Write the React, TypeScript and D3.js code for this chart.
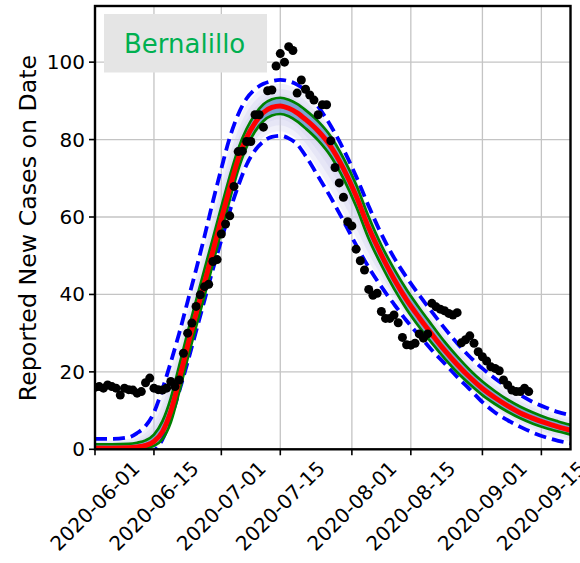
import React from "react";
import * as d3 from "d3";

// ---------- data ----------
const startDate = "2020-06-01";
// reported new cases per day, starting 2020-06-01
const observedCases = [
  16.0, 16.2, 15.8, 16.6, 16.2, 15.8, 14.0, 15.8, 15.4, 15.3,
  14.5, 14.9, 17.2, 18.4, 15.8, 15.4, 15.3, 15.8, 17.5, 16.2,
  17.9, 24.8, 30.0, 32.6, 36.9, 39.9, 42.0, 42.6, 48.5, 49.0,
  55.6, 58.2, 60.3, 67.9, 76.9, 77.0, 79.5, 79.5, 86.4, 86.4,
  83.2, 92.6, 92.8, 99.0, 102.2, 100.0, 104.0, 103.0, 92.0, 95.4,
  93.0, 91.5, 90.2, 86.4, 89.0, 89.0, 79.7, 72.8, 68.8, 65.1,
  58.8, 57.7, 51.7, 48.7, 46.3, 41.3, 39.8, 40.3, 35.6, 33.8,
  33.8, 34.7, 32.7, 28.9, 27.0, 26.9, 27.4, 29.8, 28.7, 29.8,
  37.7, 36.8, 36.2, 35.8, 35.1, 34.7, 35.3, 27.5, 28.3, 29.3,
  27.4, 25.2, 23.9, 22.8, 21.3, 20.9, 20.3, 17.9, 16.6, 15.3,
  14.9, 14.9, 15.8, 14.9,
];

// model curve sample days (days after 2020-06-01)
const modelDays = [0, 4, 8, 10, 12, 14, 16, 18, 20, 22, 24, 26, 28, 30, 32, 34, 36, 38, 40, 42, 44, 46, 48, 50, 53, 56, 59, 62, 65, 68, 71, 74, 77, 80, 83, 86, 89, 92, 95, 98, 101, 104, 107, 110, 113];
const fitCenter = [0.3, 0.3, 0.4, 0.6, 1.0, 2.0, 4.5, 9.8, 18.0, 26.8, 35.0, 43.0, 51.2, 59.5, 67.5, 75.0, 80.5, 84.3, 87.0, 88.3, 88.7, 88.1, 86.9, 85.2, 82.2, 78.2, 72.5, 65.5, 57.2, 50.2, 44.0, 38.6, 34.0, 29.7, 25.6, 21.9, 18.6, 15.7, 13.3, 11.2, 9.4, 8.0, 6.8, 5.8, 4.9];
const fitUpperGreen = [1.3, 1.3, 1.4, 1.7, 2.3, 3.8, 7.2, 13.2, 21.6, 30.2, 38.4, 46.5, 54.5, 62.6, 70.5, 77.6, 82.8, 86.5, 89.1, 90.4, 90.8, 90.3, 89.2, 87.6, 84.7, 80.8, 75.2, 68.4, 60.0, 52.7, 46.6, 41.2, 36.5, 32.1, 27.8, 24.0, 20.5, 17.5, 15.0, 12.8, 11.0, 9.5, 8.2, 7.2, 6.3];
const fitLowerGreen = [0.0, 0.0, 0.0, 0.1, 0.3, 0.9, 2.6, 7.0, 14.8, 23.5, 31.7, 39.6, 48.0, 56.4, 64.5, 72.2, 78.1, 82.1, 84.8, 86.2, 86.6, 86.0, 84.7, 82.9, 79.8, 75.7, 69.9, 62.8, 54.4, 47.6, 41.5, 36.2, 31.6, 27.4, 23.5, 19.9, 16.8, 14.0, 11.7, 9.7, 8.0, 6.6, 5.5, 4.6, 3.8];
const fitUpperDashed = [2.7, 2.7, 3.1, 4.2, 6.0, 9.5, 15.5, 22.5, 30.0, 38.2, 46.4, 55.0, 64.0, 72.5, 80.5, 86.5, 90.6, 93.0, 94.4, 95.1, 95.4, 95.1, 94.2, 92.6, 88.5, 83.5, 77.5, 70.5, 62.8, 55.6, 49.5, 44.4, 39.8, 35.5, 31.3, 27.4, 23.9, 20.9, 18.3, 16.0, 14.0, 12.2, 10.8, 9.6, 8.8];
const fitLowerDashed = [-2.4, -2.4, -2.4, -2.3, -2.0, -0.5, 2.5, 8.0, 15.0, 22.5, 30.5, 38.5, 46.5, 54.0, 61.5, 68.0, 73.5, 77.2, 79.5, 80.7, 81.0, 80.3, 78.8, 75.8, 70.5, 65.0, 59.0, 52.8, 47.0, 42.0, 37.5, 33.2, 29.4, 25.6, 22.2, 18.7, 15.5, 12.2, 9.5, 7.5, 5.8, 4.3, 3.1, 2.2, 1.5];

const xTickLabels = ["2020-06-01", "2020-06-15", "2020-07-01", "2020-07-15", "2020-08-01", "2020-08-15", "2020-09-01", "2020-09-15"];
const yTicks = [0, 20, 40, 60, 80, 100];
const countyName = "Bernalillo";
const yLabel = "Reported New Cases on Date";

// ---------- layout ----------
const W = 580;
const H = 563;
const L = 95;
const R = 570.5;
const T = 6;
const B = 449.3;
const FONT = "'DejaVu Sans', sans-serif";

export default function App() {
  const parse = d3.utcParse("%Y-%m-%d");
  const start = parse(startDate) as Date;
  const end = d3.utcHour.offset(d3.utcDay.offset(start, 112), 22);
  const x = d3.scaleUtc().domain([start, end]).range([L, R]);
  const y = d3.scaleLinear().domain([0, 114.5]).range([B, T]);

  const mx = (i: number) => x(d3.utcDay.offset(start, modelDays[i]));

  const line = (vals: number[]) =>
    d3.line<number>()
      .x((_, i) => mx(i))
      .y((v) => y(v))
      .curve(d3.curveMonotoneX)(vals) || "";

  const area = (lo: number[], hi: number[]) =>
    d3.area<number>()
      .x((_, i) => mx(i))
      .y0((_, i) => y(lo[i]))
      .y1((_, i) => y(hi[i]))
      .curve(d3.curveMonotoneX)(fitCenter) || "";

  const fan = [0.85, 0.65, 0.45, 0.3].map((t) => {
    const hi = fitCenter.map((c, i) => c + t * (fitUpperDashed[i] - c));
    const lo = fitCenter.map((c, i) => c + t * (fitLowerDashed[i] - c));
    return area(lo, hi);
  });

  const xTicks = xTickLabels.map((s) => parse(s) as Date);

  return (
    <svg
      width={W}
      height={H}
      style={{ position: "absolute", left: 0, top: 0, background: "#fff" }}
      fontFamily={FONT}
    >
      <defs>
        <clipPath id="plot">
          <rect x={L} y={T} width={R - L} height={B - T} />
        </clipPath>
      </defs>
      <rect x={0} y={0} width={W} height={H} fill="#fff" />

      {/* grid */}
      <g stroke="#c4c4c4" strokeWidth={1.3}>
        {xTicks.map((d, i) => (
          <line key={"gx" + i} x1={x(d)} x2={x(d)} y1={T} y2={B} />
        ))}
        {yTicks.map((v) => (
          <line key={"gy" + v} x1={L} x2={R} y1={y(v)} y2={y(v)} />
        ))}
      </g>

      {/* legend-like label box */}
      <rect x={104} y={14} width={163} height={58.5} fill="#e5e5e5" />
      <text x={124} y={52.5} fontSize={26} fill="#00b050">{countyName}</text>

      <g clipPath="url(#plot)">
        {fan.map((p, i) => (
          <path key={"fan" + i} d={p} fill="#c8c8ea" fillOpacity={0.25} />
        ))}
        <path d={area(fitLowerGreen, fitUpperGreen)} fill="#3f7fbf" fillOpacity={0.6} />
        <path d={line(fitUpperDashed)} fill="none" stroke="#0000ff" strokeWidth={3.8} strokeDasharray="12 6" />
        <path d={line(fitLowerDashed)} fill="none" stroke="#0000ff" strokeWidth={3.8} strokeDasharray="12 6" />
        <path d={line(fitUpperGreen)} fill="none" stroke="#008000" strokeWidth={2.7} />
        <path d={line(fitLowerGreen)} fill="none" stroke="#008000" strokeWidth={2.7} />
        <path d={line(fitCenter)} fill="none" stroke="#ff0000" strokeWidth={5} />
        {observedCases.map((v, i) => (
          <circle key={"pt" + i} cx={x(d3.utcDay.offset(start, i))} cy={y(v)} r={4.5} fill="#000" />
        ))}
      </g>

      {/* frame */}
      <rect x={L} y={T} width={R - L} height={B - T} fill="none" stroke="#000" strokeWidth={2.4} />

      {/* y ticks */}
      {yTicks.map((v) => (
        <g key={"yt" + v}>
          <line x1={L - 6} x2={L} y1={y(v)} y2={y(v)} stroke="#000" strokeWidth={1.6} />
          <text x={L - 10} y={y(v)} fontSize={20} textAnchor="end" dominantBaseline="central" fill="#000">
            {v}
          </text>
        </g>
      ))}

      {/* x ticks */}
      {xTicks.map((d, i) => {
        const px = x(d);
        const cy = 506;
        return (
          <g key={"xt" + i}>
            <line x1={px} x2={px} y1={B} y2={B + 6} stroke="#000" strokeWidth={1.6} />
            <text
              x={px}
              y={cy}
              fontSize={20}
              textAnchor="middle"
              dominantBaseline="central"
              transform={`rotate(-45 ${px} ${cy})`}
              fill="#000"
            >
              {xTickLabels[i]}
            </text>
          </g>
        );
      })}

      {/* y label */}
      <text
        x={0}
        y={0}
        fontSize={23.7}
        textAnchor="middle"
        transform={`translate(35.5 228) rotate(-90)`}
        fill="#000"
      >
        {yLabel}
      </text>
    </svg>
  );
}
